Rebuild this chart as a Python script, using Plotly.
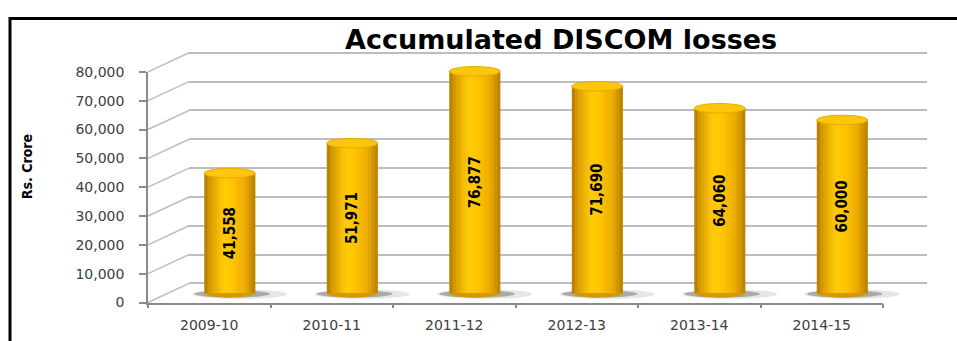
import plotly.graph_objects as go

# ---------------- data ----------------
categories = ["2009-10", "2010-11", "2011-12", "2012-13", "2013-14", "2014-15"]
losses = [41558, 51971, 76877, 71690, 64060, 60000]
value_labels = ["41,558", "51,971", "76,877", "71,690", "64,060", "60,000"]
y_ticks = [0, 10000, 20000, 30000, 40000, 50000, 60000, 70000, 80000]
y_tick_labels = ["0", "10,000", "20,000", "30,000", "40,000", "50,000", "60,000", "70,000", "80,000"]
title_text = "Accumulated DISCOM losses"
y_title = "Rs. Crore"

# ---------------- geometry / style ----------------
W, H = 957, 341
YMAX = 80000
FX0, FX1 = 148, 883        # front plane x extent (px)
FY0, FY1 = 309, 67         # front plane pixel y of 0 and YMAX
DX, DY = 41, -20           # offset of back wall
PPU = (FY0 - FY1) / YMAX   # pixels per unit
BAR_W = 0.416              # bar width in category units
CAP = 5 / PPU              # half-height of ellipse caps in data units
GRID = "#bdbdbd"
AXIS = "#8a8a8a"
NARROW = "DejaVu Sans Condensed, sans-serif"


def px(x):
    return x / W


def py(y):
    return 1 - y / H


n = len(categories)
xs = list(range(n))

fig = go.Figure()

# ----- subplot 1: back wall grid -----
back_lo, back_hi = -500, YMAX + 500
fig.add_trace(go.Scatter(x=[0], y=[0], mode="markers", marker=dict(opacity=0),
                         hoverinfo="skip", showlegend=False, xaxis="x", yaxis="y"))

# ----- subplot 2: cylinders (mid depth plane) -----
mid_lo = -8000
stops = [(0.0, (176, 122, 0)), (0.12, (220, 158, 0)), (0.38, (255, 204, 10)),
         (0.55, (255, 197, 0)), (0.8, (236, 172, 0)), (1.0, (182, 126, 0))]


def shade(t):
    for (t0, c0), (t1, c1) in zip(stops[:-1], stops[1:]):
        if t0 <= t <= t1:
            f = (t - t0) / (t1 - t0)
            return "rgb(%d,%d,%d)" % tuple(round(a + (b - a) * f) for a, b in zip(c0, c1))
    return "rgb(%d,%d,%d)" % stops[-1][1]


NS = 16
sw = BAR_W / NS
for i in range(NS):
    width = sw * 2.5 if i < NS - 2 else (NS - i) * sw
    fig.add_trace(go.Bar(
        x=xs, y=losses, width=width,
        offset=-BAR_W / 2 + i * sw,
        marker=dict(color=shade((i + 0.5) / NS), line=dict(width=0)),
        hoverinfo="skip", showlegend=False, xaxis="x2", yaxis="y2"))

fig.add_trace(go.Bar(
    x=xs, y=losses, width=BAR_W, text=value_labels, textposition="inside",
    insidetextanchor="middle", textangle=-90,
    textfont=dict(family=NARROW, size=15, color="black", weight="bold"),
    marker=dict(color="rgba(0,0,0,0)", line=dict(width=0)),
    hoverinfo="skip", showlegend=False, xaxis="x2", yaxis="y2"))

# ----- subplot 3: front axes with labels -----
fig.add_trace(go.Scatter(x=categories, y=[0] * n, mode="markers", marker=dict(opacity=0),
                         hoverinfo="skip", showlegend=False, xaxis="x3", yaxis="y3"))

shapes = []
# side wall diagonals
for v in y_ticks:
    yf = FY0 - v * PPU
    shapes.append(dict(type="line", xref="paper", yref="paper",
                       x0=px(FX0), y0=py(yf), x1=px(FX0 + DX), y1=py(yf + DY),
                       line=dict(color=GRID, width=1.5), layer="below"))

# shadows and bottom ellipses
for x, v in zip(xs, losses):
    shapes.append(dict(type="circle", xref="x2", yref="y2",
                       x0=x - BAR_W / 2 - 0.10, x1=x + BAR_W / 2 + 0.26,
                       y0=-2000, y1=1200, fillcolor="rgba(140,140,140,0.22)",
                       line=dict(width=0), layer="below"))
    shapes.append(dict(type="circle", xref="x2", yref="y2",
                       x0=x - BAR_W / 2 - 0.08, x1=x + BAR_W / 2 + 0.12,
                       y0=-1600, y1=900, fillcolor="rgba(80,80,80,0.40)",
                       line=dict(width=0), layer="below"))
    shapes.append(dict(type="circle", xref="x2", yref="y2",
                       x0=x - BAR_W / 2, x1=x + BAR_W / 2,
                       y0=-CAP, y1=CAP, fillcolor="rgb(214,152,0)",
                       line=dict(width=0), layer="below"))
    # top cap
    shapes.append(dict(type="circle", xref="x2", yref="y2",
                       x0=x - BAR_W / 2, x1=x + BAR_W / 2,
                       y0=v - CAP, y1=v + CAP, fillcolor="rgb(252,198,12)",
                       line=dict(color="rgb(232,170,0)", width=1), layer="above"))

# frame
shapes.append(dict(type="rect", xref="paper", yref="paper",
                   x0=px(10), x1=1.3, y0=-0.3, y1=py(11),
                   line=dict(color="black", width=3), fillcolor="rgba(0,0,0,0)", layer="above"))

annotations = [
    dict(text=title_text, xref="paper", yref="paper", x=px(561), y=py(33),
         xanchor="center", yanchor="middle", showarrow=False,
         font=dict(family="DejaVu Sans", size=27, color="black", weight="bold")),
    dict(text=y_title, xref="paper", yref="paper", x=px(27), y=py(167),
         xanchor="center", yanchor="middle", showarrow=False, textangle=-90,
         font=dict(family=NARROW, size=14, color="black", weight="bold")),
]

fig.update_layout(
    width=W, height=H, margin=dict(l=0, r=0, t=0, b=0),
    paper_bgcolor="white", plot_bgcolor="rgba(0,0,0,0)",
    barmode="overlay", showlegend=False,
    shapes=shapes, annotations=annotations,
    # back wall
    xaxis=dict(domain=[px(FX0 + DX), px(927)], range=[0, 1], anchor="y",
               showgrid=False, zeroline=False, showticklabels=False, ticks="", showline=False),
    yaxis=dict(domain=[py(FY0 + DY - back_lo * PPU), py(FY0 + DY - back_hi * PPU)],
               range=[back_lo, back_hi], anchor="x", tickvals=y_ticks,
               showgrid=True, gridcolor=GRID, gridwidth=1.5, zeroline=False,
               showticklabels=False, ticks="", showline=False),
    # mid plane (bars)
    xaxis2=dict(domain=[px(FX0 + DX / 2), px(FX1 + DX / 2)], range=[-0.5, n - 0.5], anchor="y2",
                showgrid=False, zeroline=False, showticklabels=False, ticks="", showline=False),
    yaxis2=dict(domain=[py(FY0 + DY / 2 - mid_lo * PPU), py(FY1 + DY / 2)],
                range=[mid_lo, YMAX], anchor="x2",
                showgrid=False, zeroline=False, showticklabels=False, ticks="", showline=False),
    # front axes
    xaxis3=dict(domain=[px(FX0), px(FX1)], anchor="y3", type="category",
                categoryorder="array", categoryarray=categories, range=[-0.5, n - 0.5],
                showgrid=False, zeroline=False, showline=True, linecolor=AXIS, linewidth=1.5,
                ticks="outside", tickson="boundaries", ticklen=4, tickcolor=AXIS, tickwidth=1.5,
                tickfont=dict(family="DejaVu Sans", size=14, color="#404040"),
                ticklabelstandoff=9),
    yaxis3=dict(domain=[py(FY0), py(FY1)], range=[0, YMAX], anchor="x3",
                tickvals=y_ticks, ticktext=y_tick_labels,
                showgrid=False, zeroline=False, showline=True, linecolor=AXIS, linewidth=1.5,
                ticks="outside", ticklen=7, tickcolor=AXIS, tickwidth=1.5,
                tickfont=dict(family="DejaVu Sans", size=14, color="#404040"),
                ticklabelstandoff=12),
)

fig.write_html("out.html")
